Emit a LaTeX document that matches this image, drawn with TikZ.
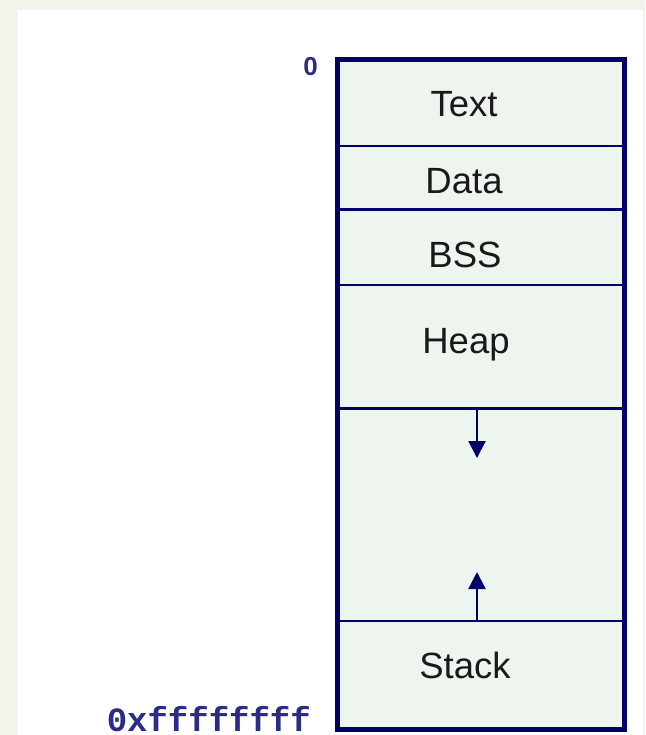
\documentclass[tikz,border=0pt]{standalone}
\usepackage{fontspec}
\setmainfont{Liberation Sans}
\newfontfamily\monofont{Liberation Mono}
\usetikzlibrary{arrows.meta}
\definecolor{bgout}{HTML}{F3F3EC}
\definecolor{navy}{HTML}{000066}
\definecolor{segfill}{HTML}{EEF5EE}
\definecolor{labelblue}{HTML}{2B2B88}
\tikzset{
  seglabel/.style={anchor=base, inner sep=0pt, text=black!90, font=\fontsize{36.5}{42}\selectfont},
  addrlabel/.style={anchor=base east, inner sep=0pt, text=labelblue},
  divider/.style={draw=navy, line width=2.6pt},
  growarrow/.style={draw=navy, line width=2.2pt, -{Triangle[width=17pt,length=17pt]}},
}
\begin{document}
\begin{tikzpicture}[x=1pt,y=-1pt]
\useasboundingbox (0,0) rectangle (645,735);
\fill[bgout] (0,0) rectangle (645,735);
\fill[white] (18,10) rectangle (643,735);
% memory box
\fill[segfill] (337.5,59.5) rectangle (624.5,729.5);
\coordinate (d1l) at (337.5,146); \coordinate (d1r) at (624.5,146);
\coordinate (d2l) at (337.5,209.5); \coordinate (d2r) at (624.5,209.5);
\coordinate (d3l) at (337.5,285); \coordinate (d3r) at (624.5,285);
\coordinate (d4l) at (337.5,408.5); \coordinate (d4r) at (624.5,408.5);
\coordinate (d5l) at (337.5,621); \coordinate (d5r) at (624.5,621);
\draw[divider] (d1l) -- (d1r);
\draw[divider] (d2l) -- (d2r);
\draw[divider] (d3l) -- (d3r);
\draw[divider] (d4l) -- (d4r);
\draw[divider] (d5l) -- (d5r);
\draw[draw=navy, line width=4.5pt] (337.5,59.5) rectangle (624.5,729.5);
% labels
\node[seglabel] (text) at (464,117) {Text};
\node[seglabel] (data) at (464,194) {Data};
\node[seglabel] (bss) at (465,267) {BSS};
\node[seglabel] (heap) at (466,353) {Heap};
\node[seglabel] (stack) at (465,678) {Stack};
% growth arrows
\coordinate (hs) at (477,409);
\coordinate (he) at (477,458);
\coordinate (ss) at (477,621);
\coordinate (se) at (477,572);
\draw[growarrow] (hs) -- (he);
\draw[growarrow] (ss) -- (se);
% addresses
\node[addrlabel, font=\bfseries\fontsize{26}{30}\selectfont] (zero) at (318,75.5) {0};
\node[addrlabel, text depth=0pt, font=\monofont\bfseries\fontsize{34}{40}\selectfont] (ffff) at (311,731) {0xffffffff};
\end{tikzpicture}
\end{document}
